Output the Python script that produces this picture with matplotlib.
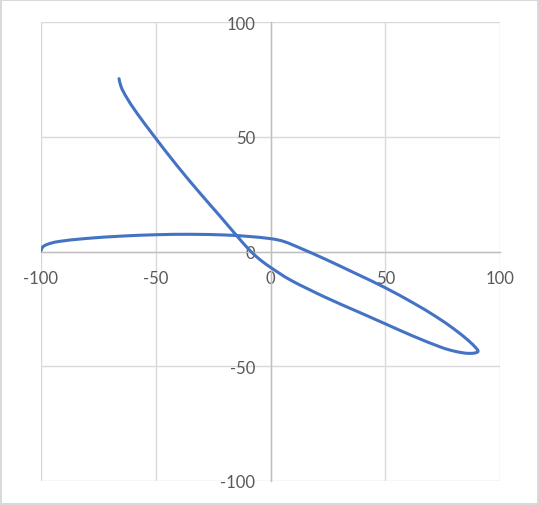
import numpy as np
import matplotlib
matplotlib.use('Agg')
import matplotlib.pyplot as plt
from matplotlib.path import Path
from matplotlib.patches import PathPatch

plt.rcParams['axes.unicode_minus'] = False

# points (one series, traced end to end)
xs = [-100, -99.2, -97, -92, -80, -65, -50, -35, -20, -10, 0, 6, 13.6, 24, 38,
      50, 62, 72, 80, 86, 89.5, 90.4, 88.5, 85, 80, 74, 62, 50, 38, 24,
      9, 0, -5, -9.5, -15, -22, -30.7, -40.8, -50.3, -58, -62.5, -65, -66]
ys = [0.4, 2.0, 3.2, 4.4, 5.7, 6.7, 7.3, 7.5, 7.2, 6.6, 5.6, 4.3, 1.2, -3.4, -10.0,
      -15.8, -22.3, -28.3, -33.8, -38.6, -42.0, -43.6, -44.3, -44.3, -43.4, -41.6, -36.8, -31.5, -26.2, -20.0,
      -12.6, -6.9, -3.2, 1.0, 7.2, 15.4, 25.4, 37.5, 49.7, 60.0, 66.8, 71.5, 75.3]
ticks = [-100, -50, 0, 50, 100]

txt_col = '#595959'
grid_col = '#D9D9D9'
line_col = '#4472C4'

fig = plt.figure(figsize=(5.39, 5.06), dpi=100)
fig.patch.set_edgecolor(grid_col)
fig.patch.set_linewidth(1.5)
ax = fig.add_axes([41/539, 1-482/506, 459/539, 459/506])

# smooth line like excel: catmull-rom -> cubic bezier segments
P = np.column_stack([xs, ys])
n = len(P)
verts = [P[0]]
codes = [Path.MOVETO]
for i in range(n - 1):
    p0 = P[max(i - 1, 0)]
    p1 = P[i]
    p2 = P[i + 1]
    p3 = P[min(i + 2, n - 1)]
    c1 = p1 + (p2 - p0) / 6
    c2 = p2 - (p3 - p1) / 6
    verts += [c1, c2, p2]
    codes += [Path.CURVE4] * 3
path = Path(verts, codes)
ax.add_patch(PathPatch(path, facecolor='none', edgecolor=line_col, lw=2.2,
                       capstyle='round', joinstyle='round', zorder=3))

ax.set_xlim(-100, 100)
ax.set_ylim(-100, 100)
ax.set_xticks(ticks)
ax.set_yticks(ticks)
ax.grid(True, color=grid_col, lw=1.0)
ax.set_axisbelow(True)
for g in ax.get_xgridlines() + ax.get_ygridlines():
    g.set_clip_on(False)

ax.spines['left'].set_position('zero')
ax.spines['bottom'].set_position('zero')
ax.spines['left'].set_color('#BFBFBF')
ax.spines['bottom'].set_color('#BFBFBF')
ax.spines['left'].set_linewidth(1.0)
ax.spines['bottom'].set_linewidth(1.0)
ax.spines['top'].set_visible(False)
ax.spines['right'].set_visible(False)

ax.tick_params(axis='x', length=0, pad=13, labelsize=12, labelcolor=txt_col)
ax.tick_params(axis='y', length=0, pad=11, labelsize=12, labelcolor=txt_col)
for lab in ax.get_xticklabels() + ax.get_yticklabels():
    lab.set_fontfamily('Lato')
ax.patch.set_visible(False)

fig.savefig('out.png', dpi=100)
